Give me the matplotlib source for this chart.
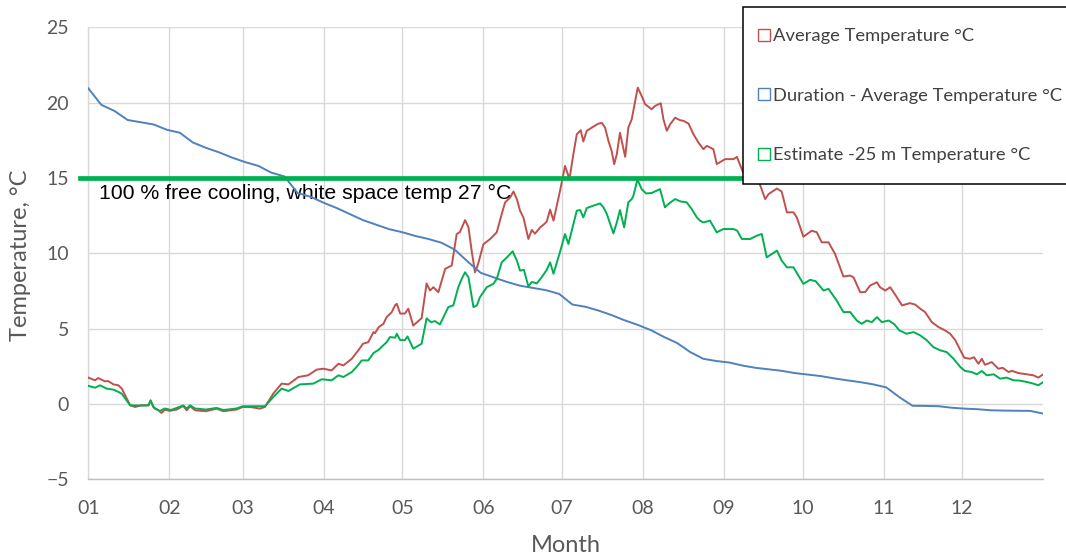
import matplotlib
matplotlib.use("Agg")
import matplotlib.pyplot as plt
from matplotlib.lines import Line2D

# ---- data (day of year, °C) ----
MONTH_START_DAYS = [0, 31, 59, 90, 120, 151, 181, 212, 243, 273, 304, 334]
MONTH_LABELS = ["01", "02", "03", "04", "05", "06", "07", "08", "09", "10", "11", "12"]

AVG_DAYS = [0, 2.6, 3.8, 6.4, 7.6, 9.6, 11.5, 12.8, 16, 17.9, 20, 23, 23.8, 24.8, 26.8,
            28, 29.3, 31, 33.8, 36.3, 37.6, 38.9, 40.8, 45, 49, 51.6, 56.7, 59, 61.8,
            65.6, 67.5, 70.7, 73.9, 76.5, 80.3, 84, 87.3, 89.8, 93, 95.6, 97.5, 100.7,
            103.2, 105, 107, 109, 109.6, 111, 112.8, 114, 116, 117.2, 117.9, 119.2, 121,
            122.3, 124.2, 127.4, 129.3, 130.6, 131.9, 133.8, 136.4, 138.9, 140.8, 142,
            144, 145.3, 146.6, 147.8, 149, 151, 153.6, 156.1, 158, 159.3, 161.2, 162.5,
            163.8, 165, 166.3, 168.2, 169.5, 170.7, 172.7, 174, 175.2, 176.5, 177.8,
            180.3, 182.2, 183.9, 185.4, 186.7, 188.2, 189.2, 190.5, 192.4, 195, 196.3,
            197.5, 198.8, 200, 201, 202, 203.2, 205.2, 206.4, 207.7, 208.3, 210, 211.5,
            212.8, 215.3, 216.6, 218.8, 219.8, 221.1, 222.4, 224.3, 226.2, 227.5, 229.4,
            231.3, 233.2, 235.1, 236.4, 238.9, 240.2, 243.4, 246.6, 247.9, 250.4, 253,
            256, 258.7, 260, 263.2, 265, 267, 269.5, 270.8, 273.3, 276.5, 278.4, 280.3,
            282.9, 285.4, 288.6, 291.2, 292.5, 295, 296.9, 298.8, 301.4, 302.6, 304.6,
            306.5, 309, 311, 314, 316, 318, 319.8, 322.4, 325, 327.5, 329.4, 331.4,
            333.3, 334.8, 336.9, 338.5, 340.2, 341.5, 342.7, 345.3, 347.8, 349.5, 351.7,
            353, 355.5, 358.7, 361.2, 363.1, 365]
AVG_TEMP = [1.75, 1.57, 1.72, 1.5, 1.52, 1.3, 1.24, 1.02, -0.09, -0.2, -0.1, -0.09, 0.25,
            -0.2, -0.42, -0.6, -0.37, -0.46, -0.37, -0.13, -0.42, -0.15, -0.42, -0.48,
            -0.31, -0.48, -0.37, -0.2, -0.2, -0.31, -0.2, 0.69, 1.35, 1.3, 1.79, 1.9,
            2.28, 2.34, 2.23, 2.67, 2.56, 3.0, 3.56, 4.0, 4.1, 4.77, 4.7, 5.1, 5.32, 5.76,
            6.1, 6.54, 6.65, 6.0, 6.0, 6.32, 5.2, 5.7, 8.0, 7.53, 7.75, 7.42, 8.97, 9.19,
            11.28, 11.4, 12.2, 11.73, 10.07, 8.74, 9.3, 10.6, 10.95, 11.39, 12.6, 13.38,
            13.7, 14.1, 13.6, 12.83, 12.38, 10.95, 11.55, 11.3, 11.72, 11.9, 12.1, 12.9,
            12.17, 14.15, 15.8, 14.93, 16.58, 17.9, 18.17, 17.42, 18.13, 18.34, 18.61,
            18.65, 18.34, 17.46, 16.8, 15.92, 16.58, 18.0, 16.4, 18.34, 18.9, 19.45, 21.0,
            20.44, 19.9, 19.56, 19.78, 19.96, 18.9, 18.13, 18.57, 19.0, 18.83, 18.79,
            18.61, 17.9, 17.35, 16.91, 17.13, 16.91, 15.92, 16.25, 16.25, 16.4, 15.3,
            15.6, 14.9, 13.6, 13.93, 14.3, 14.1, 12.72, 12.72, 12.38, 11.1, 11.5, 11.4,
            10.73, 10.73, 9.96, 8.46, 8.52, 8.4, 7.42, 7.42, 7.86, 8.08, 7.75, 7.53, 7.75,
            7.09, 6.54, 6.69, 6.6, 6.32, 6.1, 5.43, 5.1, 4.88, 4.66, 4.22, 3.56, 3.07,
            3.0, 3.1, 2.67, 3.0, 2.6, 2.78, 2.34, 2.4, 2.12, 2.2, 2.05, 1.97, 1.9, 1.75,
            1.97]

DURATION_DAYS = list(range(0, 366, 5))
DURATION_TEMP = [20.95, 19.85, 19.45, 18.85, 18.7, 18.55, 18.2, 18.0, 17.35, 17.0, 16.7,
                 16.35, 16.05, 15.8, 15.35, 15.1, 14.0, 13.75, 13.35, 13.0, 12.6, 12.2,
                 11.9, 11.6, 11.4, 11.15, 10.95, 10.7, 10.25, 9.45, 8.7, 8.4, 8.1, 7.85,
                 7.7, 7.55, 7.3, 6.6, 6.45, 6.2, 5.9, 5.55, 5.25, 4.9, 4.45, 4.05, 3.45,
                 3.0, 2.85, 2.75, 2.55, 2.4, 2.3, 2.2, 2.05, 1.95, 1.85, 1.7, 1.57, 1.45,
                 1.3, 1.1, 0.45, -0.12, -0.13, -0.15, -0.25, -0.31, -0.35, -0.42, -0.44,
                 -0.45, -0.46, -0.64]

EST_DAYS = [0, 2.6, 4.5, 7, 9.6, 11.5, 12.8, 16, 20, 23, 23.8, 25.3, 27.4, 29.3, 31.6,
            36.3, 37.6, 38.9, 40.8, 45, 49, 51.6, 56.7, 59, 61.8, 67.5, 70.7, 73.9, 76.5,
            80.9, 86, 89.2, 93, 95.6, 97.5, 100.7, 102.5, 104.5, 107, 109, 111, 114,
            115.3, 117.3, 117.9, 119.2, 121, 122, 124.2, 127.4, 129.3, 131, 132.5, 134.4,
            137.6, 139.5, 141.4, 142.7, 144, 145.3, 147.2, 148.5, 149.7, 152.3, 154.8,
            156.1, 158, 160, 162.2, 163.8, 165, 166.5, 168.2, 169.5, 171.4, 173.3, 175.2,
            176.5, 177.8, 180.3, 182.2, 183.5, 185.4, 186.7, 188, 189.2, 190.5, 193,
            195.6, 196.9, 198.2, 200.7, 202, 203.2, 204.8, 206.4, 207.7, 208.3, 209.9,
            211.5, 213.2, 215.3, 218.5, 220.4, 221.7, 224.3, 226.2, 228.7, 230.6, 232.6,
            233.8, 235.1, 237.6, 240.2, 242.7, 246.6, 248, 249.8, 253, 255.5, 257.4,
            259.3, 261.2, 263.2, 265, 267, 269.5, 271.4, 273.3, 275.9, 278, 281, 282.9,
            286, 288.6, 291.2, 293.7, 295.6, 297.5, 299.5, 301.4, 303.3, 305.9, 308, 310,
            312.8, 315.4, 318, 320.5, 323, 325.6, 328.1, 330.7, 333.3, 335.1, 337.6,
            339.6, 341.5, 343.4, 346, 348.5, 351, 353.6, 356, 358.7, 361.2, 363.1, 365]
EST_TEMP = [1.2, 1.08, 1.24, 1.02, 0.95, 0.8, 0.68, -0.09, -0.1, -0.09, 0.2, -0.3, -0.46,
            -0.3, -0.4, -0.1, -0.3, -0.09, -0.3, -0.37, -0.26, -0.4, -0.3, -0.15, -0.15,
            -0.15, 0.46, 1.02, 0.86, 1.3, 1.35, 1.64, 1.57, 1.9, 1.79, 2.12, 2.45, 2.89,
            2.89, 3.38, 3.6, 4.1, 4.44, 4.4, 4.66, 4.24, 4.24, 4.48, 3.67, 4.0, 5.68,
            5.43, 5.5, 5.28, 6.43, 6.54, 7.75, 8.3, 8.74, 8.41, 6.43, 6.54, 7.09, 7.75,
            7.97, 8.3, 9.4, 9.73, 10.13, 9.52, 8.85, 8.9, 7.8, 8.1, 8.0, 8.41, 8.9, 9.4,
            8.64, 10.1, 11.28, 10.62, 11.95, 12.83, 12.87, 12.38, 13.0, 13.16, 13.31,
            13.05, 12.6, 11.32, 12.05, 12.87, 11.72, 13.38, 13.6, 13.8, 14.9, 14.26,
            13.97, 14.0, 14.26, 13.05, 13.27, 13.6, 13.45, 13.38, 12.94, 12.38, 12.17,
            12.05, 12.17, 11.39, 11.61, 11.61, 11.5, 10.95, 10.95, 11.17, 11.28, 9.73,
            9.95, 10.18, 9.52, 9.07, 9.07, 8.52, 7.97, 8.24, 8.15, 7.53, 7.64, 6.87, 6.1,
            6.1, 5.54, 5.32, 5.54, 5.43, 5.76, 5.43, 5.54, 5.3, 4.88, 4.66, 4.77, 4.55,
            4.22, 3.77, 3.56, 3.44, 3.0, 2.45, 2.19, 2.12, 1.97, 2.19, 1.9, 1.97, 1.68,
            1.75, 1.57, 1.55, 1.46, 1.35, 1.24, 1.46]

FREE_COOLING_LIMIT = 15
FREE_COOLING_TEXT = "100 % free cooling, white space temp 27 °C"

SERIES_LABELS = ["Average Temperature °C",
                 "Duration - Average Temperature °C",
                 "Estimate -25 m Temperature °C"]
SERIES_COLORS = ["#C0504D", "#4F81BD", "#00B050"]

# ---- figure ----
plt.rcParams["font.family"] = ["Lato", "DejaVu Sans"]
W, H = 1066, 556
fig = plt.figure(figsize=(W / 100, H / 100), dpi=100)
ax = fig.add_axes([88.3 / W, 1 - 479.3 / H, 955 / W, 452 / H])

ax.plot(AVG_DAYS, AVG_TEMP, color=SERIES_COLORS[0], lw=1.4, zorder=3)
ax.plot(DURATION_DAYS, DURATION_TEMP, color=SERIES_COLORS[1], lw=1.4, zorder=3)
ax.plot(EST_DAYS, EST_TEMP, color=SERIES_COLORS[2], lw=1.4, zorder=3)

# free-cooling threshold line and its caption
ax.axhline(FREE_COOLING_LIMIT, xmin=-8.3 / 955, xmax=1.0, color="#00B050",
           lw=3.4, clip_on=False, zorder=4)
ax.annotate(FREE_COOLING_TEXT, xy=(0, FREE_COOLING_LIMIT), xytext=(7.7, -15.2),
            textcoords="offset points", ha="left", va="baseline",
            fontsize=15.3, family="Liberation Sans", color="black", zorder=1.5)

ax.set_xlim(0, 365)
ax.set_ylim(-5, 25)
ax.set_xticks(MONTH_START_DAYS)
ax.set_xticklabels(MONTH_LABELS)
ax.set_yticks(range(-5, 26, 5))

ax.grid(True, color="#d9d9d9", lw=1.0)
ax.set_axisbelow(True)
for side in ("top", "right"):
    ax.spines[side].set_visible(False)
ax.spines["left"].set_color("#d9d9d9")
ax.spines["bottom"].set_color("#bfbfbf")
ax.spines["left"].set_linewidth(1.0)
ax.spines["bottom"].set_linewidth(1.0)

ax.tick_params(axis="both", length=0, labelsize=14, labelcolor="#595959")
ax.tick_params(axis="x", pad=15)
ax.tick_params(axis="y", pad=14)

fig.text(565.5 / W, 1 - 545 / H, "Month", ha="center", va="center",
         fontsize=17, color="#595959")
fig.text(21 / W, 1 - 255 / H, "Temperature, °C", ha="center", va="center",
         rotation=90, fontsize=17, color="#595959")

handles = [Line2D([], [], ls="none", marker="s", ms=8.5, mfc="none", mec=c, mew=1.0)
           for c in SERIES_COLORS]
leg = ax.legend(handles, SERIES_LABELS, loc="upper left",
                bbox_to_anchor=(743 / W, 1 - 7 / H), bbox_transform=fig.transFigure,
                borderaxespad=0, frameon=True, fancybox=False, framealpha=1,
                edgecolor="black", prop={"family": "Lato", "size": 13.2},
                labelcolor="#404040", handlelength=0, handletextpad=0.5,
                labelspacing=2.38, borderpad=1.15)
leg.get_frame().set_linewidth(1.1)
leg.set_zorder(10)

fig.savefig("out.png", dpi=100)
